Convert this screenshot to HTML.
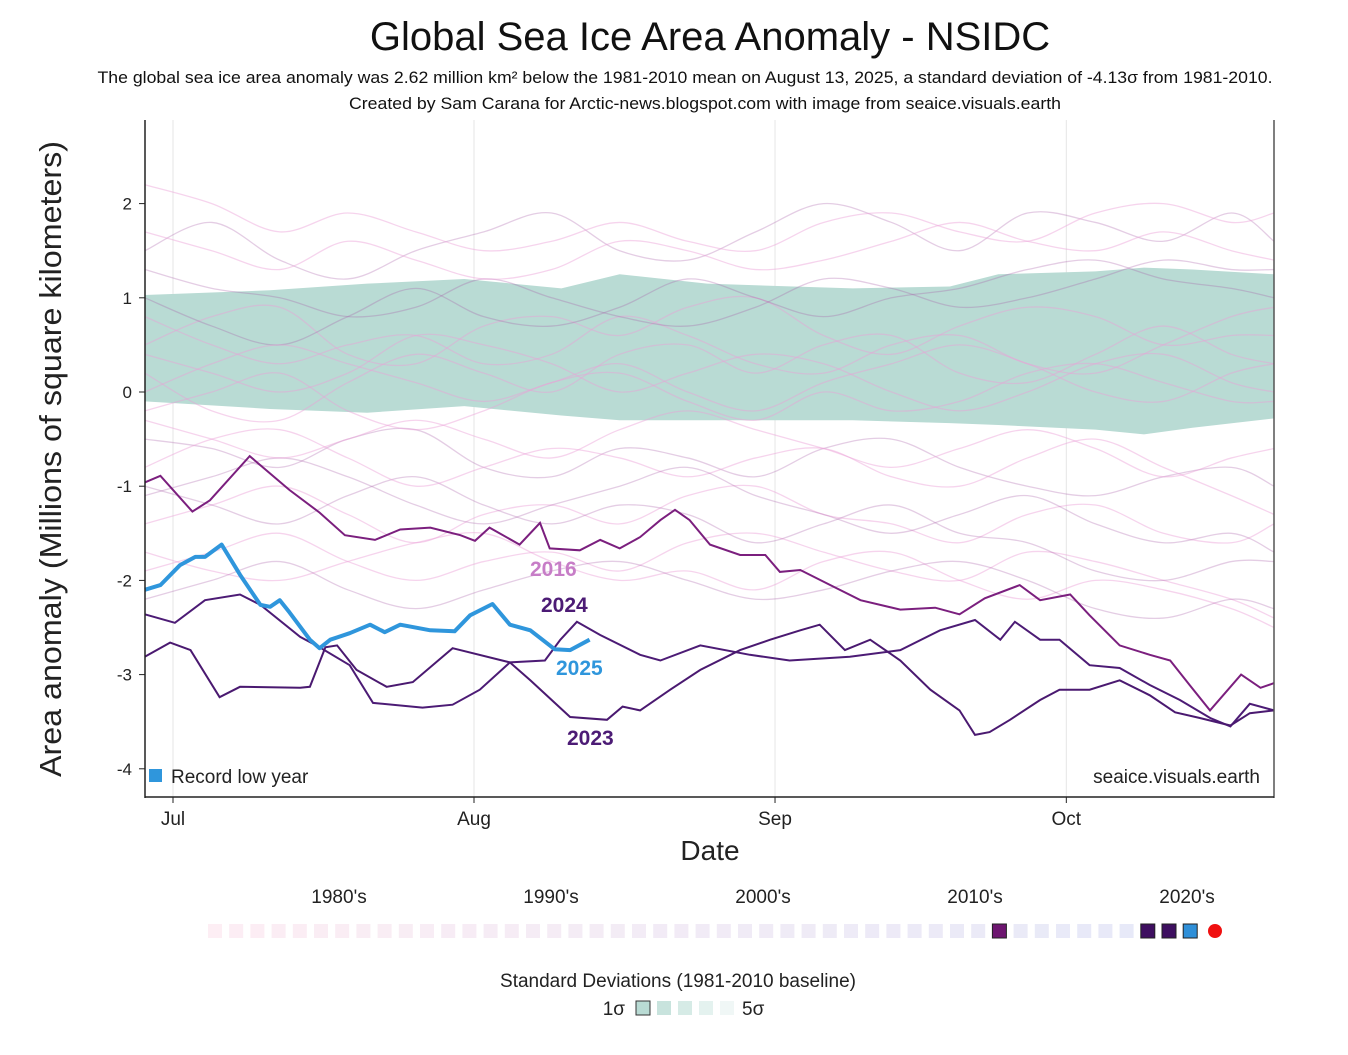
<!DOCTYPE html>
<html><head><meta charset="utf-8"><style>
body{margin:0;background:#fff;width:1348px;height:1050px;overflow:hidden;font-family:"Liberation Sans",sans-serif}
</style></head><body>
<svg id="c" width="1348" height="1050" font-family="Liberation Sans, sans-serif"></svg>
<script>
const days2025=[-2.9,-1.3,0.7,2.3,3.3,5.0,6.9,9.0,10.0,11.0,12.0,14.1,15.1,16.2,18.2,20.3,21.8,23.4,26.5,29.0,30.6,32.9,34.7,36.8,39.3,40.9,42.9];
const vals2025=[-2.10,-2.05,-1.84,-1.75,-1.75,-1.62,-1.94,-2.26,-2.28,-2.21,-2.34,-2.63,-2.72,-2.63,-2.56,-2.47,-2.55,-2.47,-2.53,-2.54,-2.37,-2.25,-2.47,-2.53,-2.73,-2.74,-2.63];
const days2016=[-2.9,-1.3,2.0,3.8,7.9,12.0,15.1,17.7,20.8,23.4,26.5,29.6,31.1,32.6,35.7,37.8,38.8,41.9,44.0,46.0,48.1,50.2,51.7,53.2,55.3,58.4,61.0,62.5,64.6,67.7,70.8,74.9,78.5,81.0,83.6,87.2,89.3,92.4,94.4,97.5,100.6,102.7,104.7,106.8,110.0,112.0,113.4];
const vals2016=[-0.96,-0.89,-1.27,-1.15,-0.68,-1.04,-1.28,-1.52,-1.57,-1.46,-1.44,-1.52,-1.58,-1.44,-1.62,-1.39,-1.66,-1.68,-1.57,-1.66,-1.54,-1.36,-1.25,-1.36,-1.62,-1.73,-1.73,-1.91,-1.89,-2.05,-2.21,-2.31,-2.29,-2.36,-2.19,-2.05,-2.21,-2.15,-2.37,-2.69,-2.79,-2.85,-3.11,-3.38,-3.00,-3.14,-3.09];
const days2024=[-2.9,0.2,3.3,6.9,9.0,13.1,15.1,18.2,20.6,25.7,28.8,31.6,34.7,38.3,39.9,41.6,44.0,48.1,50.2,54.3,59.4,63.5,69.7,74.9,79.0,82.6,85.2,86.7,89.3,91.3,94.4,97.5,100.6,103.7,106.8,108.9,110.9,113.4];
const vals2024=[-2.36,-2.45,-2.21,-2.15,-2.26,-2.60,-2.71,-2.90,-3.30,-3.35,-3.32,-3.16,-2.87,-2.85,-2.63,-2.44,-2.58,-2.79,-2.85,-2.69,-2.79,-2.85,-2.81,-2.74,-2.53,-2.42,-2.63,-2.44,-2.63,-2.63,-2.90,-2.93,-3.11,-3.27,-3.46,-3.55,-3.31,-3.38];
const days2023=[-2.9,-0.3,1.8,4.8,6.9,13.1,14.1,15.7,16.9,18.9,22.0,24.7,28.8,34.7,36.8,40.9,44.7,46.3,48.1,51.2,54.3,58.4,61.5,64.6,66.6,69.2,71.8,74.9,78.0,81.0,82.6,84.1,86.2,89.3,91.3,94.4,97.5,100.6,103.2,105.7,108.9,110.9,113.4];
const vals2023=[-2.81,-2.66,-2.74,-3.24,-3.13,-3.14,-3.13,-2.71,-2.69,-2.95,-3.13,-3.08,-2.72,-2.87,-3.06,-3.45,-3.48,-3.34,-3.38,-3.16,-2.95,-2.74,-2.63,-2.53,-2.47,-2.74,-2.63,-2.85,-3.16,-3.38,-3.64,-3.61,-3.48,-3.27,-3.16,-3.16,-3.06,-3.22,-3.40,-3.46,-3.54,-3.41,-3.38];
const bandDays=[-2.9,10,20,30,40,46,55,70,80,85,95,100,105,113.4];
const bandUpper=[1.03,1.08,1.15,1.2,1.1,1.25,1.15,1.1,1.12,1.25,1.28,1.32,1.3,1.25];
const bandLower=[-0.1,-0.18,-0.22,-0.15,-0.25,-0.3,-0.3,-0.3,-0.33,-0.35,-0.4,-0.45,-0.38,-0.28];
const faintDays=[-2.9,4,11,18,25,32,39,46,53,60,67,74,81,88,95,102,109,113.4];
const faintSeries=[
[1.5,1.8,1.4,1.2,1.5,1.7,1.9,1.5,1.4,1.7,2.0,1.8,1.5,1.9,1.8,1.6,1.9,1.6],
[0.5,0.8,0.9,0.4,0.3,0.7,0.8,0.6,0.9,1.0,0.6,0.4,0.7,0.9,0.8,0.5,0.6,0.6],
[0.2,-0.2,-0.3,0.1,0.4,0.2,0.0,0.4,0.5,0.2,0.5,0.6,0.2,0.1,0.4,0.7,0.4,0.3],
[-0.5,-0.6,-0.8,-0.5,-0.4,-0.8,-0.9,-0.6,-0.7,-0.9,-0.6,-0.5,-0.8,-1.0,-1.1,-0.9,-0.8,-1.0],
[-1.4,-1.2,-1.0,-1.3,-1.6,-1.3,-1.2,-1.4,-1.1,-1.0,-1.3,-1.4,-1.6,-1.3,-1.2,-1.5,-1.6,-1.4],
[-1.9,-1.7,-1.5,-1.8,-2.0,-1.8,-1.7,-1.9,-1.6,-1.5,-1.7,-1.9,-2.0,-1.7,-1.8,-2.0,-2.2,-2.4],
[1.0,0.7,0.5,0.8,1.1,0.8,0.7,0.9,1.2,1.0,0.8,1.0,1.1,1.3,1.4,1.2,1.1,1.0],
[-0.2,0.0,0.2,-0.2,-0.4,-0.2,0.1,0.2,-0.1,-0.3,0.0,-0.2,-0.1,0.2,0.3,0.1,-0.1,-0.1],
[2.2,2.0,1.7,1.9,1.7,1.5,1.6,1.8,1.6,1.5,1.8,1.9,1.7,1.6,1.9,2.0,1.8,1.9],
[-1.0,-1.2,-1.4,-1.1,-0.9,-1.2,-1.4,-1.2,-1.3,-1.6,-1.4,-1.2,-1.5,-1.6,-1.9,-2.0,-1.8,-1.8],
[0.8,0.5,0.3,0.5,0.6,0.3,0.4,0.8,0.6,0.3,0.2,0.5,0.6,0.3,0.2,0.5,0.8,0.9],
[-0.8,-0.5,-0.4,-0.7,-1.0,-0.8,-0.6,-0.7,-0.9,-0.7,-0.6,-0.9,-1.0,-0.7,-0.5,-0.8,-1.1,-1.3],
[1.3,1.1,1.0,0.8,0.9,1.2,1.0,0.8,0.7,0.9,1.2,1.1,0.9,1.0,1.2,1.4,1.3,1.3],
[-1.7,-1.9,-2.0,-1.8,-1.6,-1.5,-1.8,-2.0,-1.9,-2.1,-1.8,-1.7,-2.0,-2.2,-2.0,-2.1,-2.3,-2.5],
[0.0,0.3,0.5,0.3,0.1,-0.1,0.1,0.3,0.0,-0.2,0.1,0.3,0.5,0.3,0.0,-0.1,0.2,0.3],
[-1.1,-0.9,-0.7,-0.9,-1.2,-1.4,-1.2,-1.0,-0.8,-1.1,-1.3,-1.5,-1.3,-1.1,-1.4,-1.6,-1.5,-1.7],
[1.7,1.5,1.3,1.6,1.4,1.2,1.3,1.6,1.5,1.3,1.4,1.6,1.8,1.6,1.5,1.7,1.5,1.4],
[0.4,0.2,0.0,0.2,0.6,0.5,0.3,0.0,0.2,0.4,0.3,0.0,-0.2,0.0,0.3,0.4,0.1,0.0],
[-2.2,-2.0,-1.8,-2.1,-2.3,-2.1,-1.9,-1.8,-2.0,-2.2,-2.1,-1.9,-1.8,-2.0,-2.3,-2.4,-2.2,-2.3],
[-0.3,-0.5,-0.7,-0.5,-0.3,-0.5,-0.7,-0.4,-0.2,-0.4,-0.6,-0.8,-0.6,-0.4,-0.6,-0.9,-0.7,-0.6]];
const yTicks=[2,1,0,-1,-2,-3,-4];
const monthLabels=["Jul","Aug","Sep","Oct"];
const monthDays=[0,31,62,92];
const decadeLabels=["1980's","1990's","2000's","2010's","2020's"];

const X=d=>173+d*9.71, Y=v=>392-v*94.2;
const svg=document.getElementById('c');const NS='http://www.w3.org/2000/svg';
function mk(t,a,txt){const e=document.createElementNS(NS,t);for(const k in a)e.setAttribute(k,a[k]);if(txt!=null)e.textContent=txt;svg.appendChild(e);return e;}
function pth(ds,vs){return ds.map((d,i)=>(i?'L':'M')+X(d).toFixed(1)+','+Y(vs[i]).toFixed(1)).join(' ');}
function smooth(ds,vs){const p=ds.map((d,i)=>[X(d),Y(vs[i])]);let s='M'+p[0][0]+','+p[0][1];for(let i=0;i<p.length-1;i++){const p0=p[i-1]||p[i],p1=p[i],p2=p[i+1],p3=p[i+2]||p2;s+=' C'+(p1[0]+(p2[0]-p0[0])/6)+','+(p1[1]+(p2[1]-p0[1])/6)+' '+(p2[0]-(p3[0]-p1[0])/6)+','+(p2[1]-(p3[1]-p1[1])/6)+' '+p2[0]+','+p2[1];}return s;}
let e;
e=mk('text',{x:710,y:50,'text-anchor':'middle','font-size':40,fill:'#111'},'Global Sea Ice Area Anomaly - NSIDC');

e=mk('text',{x:685,y:83,'text-anchor':'middle','font-size':17,fill:'#111',textLength:1175,lengthAdjust:'spacingAndGlyphs'},'The global sea ice area anomaly was 2.62 million km² below the 1981-2010 mean on August 13, 2025, a standard deviation of -4.13σ from 1981-2010.');

e=mk('text',{x:705,y:109,'text-anchor':'middle','font-size':17,fill:'#111',textLength:712,lengthAdjust:'spacingAndGlyphs'},'Created by Sam Carana for Arctic-news.blogspot.com with image from seaice.visuals.earth');

monthDays.forEach((d,i)=>{e=mk('line',{x1:X(d),x2:X(d),y1:120,y2:797,stroke:'#e6e6e6'});});
let bp=bandDays.map((d,i)=>(i?'L':'M')+X(d)+','+Y(bandUpper[i])).join(' ');
for(let i=bandDays.length-1;i>=0;i--)bp+=' L'+X(bandDays[i])+','+Y(bandLower[i]);
e=mk('path',{d:bp+'Z',fill:'#b9dbd4'});
faintSeries.forEach((s,i)=>{e=mk('path',{d:smooth(faintDays,s),fill:'none',stroke:i%3?'#eaa0d6':'#a45aa6',"stroke-opacity":i%3?0.45:0.3,'stroke-width':1.3});});
e=mk('path',{d:pth(days2016,vals2016),fill:'none',stroke:'#7b1f7e','stroke-width':2});
e=mk('path',{d:pth(days2024,vals2024),fill:'none',stroke:'#4c1b75','stroke-width':2});
e=mk('path',{d:pth(days2023,vals2023),fill:'none',stroke:'#4a1970','stroke-width':2});
e=mk('path',{d:pth(days2025,vals2025),fill:'none',stroke:'#2f96dc','stroke-width':4,'stroke-linejoin':'round'});
[['2016',530,576,'#c77dc7'],['2024',541,612,'#4c1b75'],['2025',556,675,'#2f96dc'],['2023',567,745,'#4c1b75']].forEach(a=>{e=mk('text',{x:a[1],y:a[2],'font-size':21,'font-weight':'bold',fill:a[3]},a[0]);});
e=mk('line',{x1:145,x2:145,y1:120,y2:798,stroke:'#222','stroke-width':1.5});
e=mk('line',{x1:1274,x2:1274,y1:120,y2:798,stroke:'#555','stroke-width':1.5});
e=mk('line',{x1:145,x2:1274,y1:797,y2:797,stroke:'#222','stroke-width':1.5});
yTicks.forEach(v=>{mk('line',{x1:139,x2:145,y1:Y(v),y2:Y(v),stroke:'#222'});e=mk('text',{x:132,y:Y(v)+6,'text-anchor':'end','font-size':17,fill:'#222'},String(v));});
monthDays.forEach((d,i)=>{mk('line',{x1:X(d),x2:X(d),y1:797,y2:803,stroke:'#222'});e=mk('text',{x:X(d),y:825,'text-anchor':'middle','font-size':19,fill:'#222'},monthLabels[i]);});
e=mk('text',{x:710,y:860,'text-anchor':'middle','font-size':28,fill:'#222'},'Date');
e=mk('text',{x:0,y:0,'text-anchor':'middle','font-size':31,fill:'#222',transform:'translate(61,459) rotate(-90)',textLength:636,lengthAdjust:'spacingAndGlyphs'},'Area anomaly (Millions of square kilometers)');
mk('rect',{x:149,y:769,width:13,height:13,fill:'#2f96dc'});
e=mk('text',{x:171,y:783,'font-size':19,fill:'#222'},'Record low year');
e=mk('text',{x:1260,y:783,'text-anchor':'end','font-size':19,fill:'#222'},'seaice.visuals.earth');
decadeLabels.forEach((t,i)=>{e=mk('text',{x:339+i*212,y:903,'text-anchor':'middle','font-size':19,fill:'#222'},t);});
for(let i=0;i<47;i++){const x=215+i*21.2;let f='rgb('+(253-i*0.5|0)+','+(238-i*0.1|0)+','+(244+i*0.1|0)+')';
 if(i==37)f='#6d1670';if(i==44||i==45)f='#3e0f60';if(i==46)f='#2f8fd8';
 e=mk('rect',{x:x-7,y:924,width:14,height:14,fill:f,stroke:(i==37||i>=44)?'#222':'none','stroke-width':1});}
e=mk('circle',{cx:1215,cy:931,r:7,fill:'#f01010'});
e=mk('text',{x:678,y:987,'text-anchor':'middle','font-size':19,fill:'#222'},'Standard Deviations (1981-2010 baseline)');
mk('text',{x:625,y:1015,'text-anchor':'end','font-size':19,fill:'#222'},'1σ');
['#b9dbd4','#c8e3dd','#d6ebe6','#e4f2ef','#f0f7f6'].forEach((c,i)=>{e=mk('rect',{x:636+i*21,y:1001,width:14,height:14,fill:c,stroke:i==0?'#333':'none'});});
mk('text',{x:742,y:1015,'font-size':19,fill:'#222'},'5σ');
</script>
</body></html>
